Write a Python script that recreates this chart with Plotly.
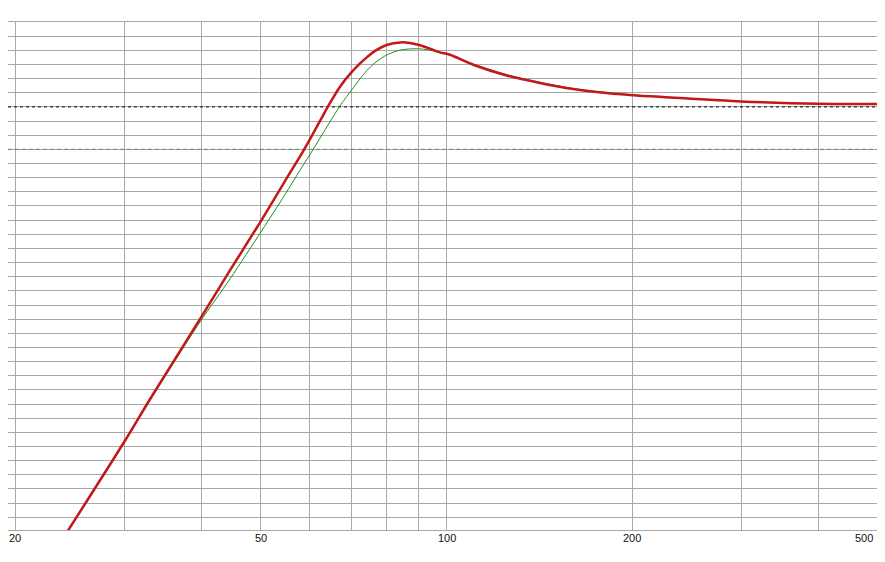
import math
import plotly.graph_objects as go

# ---- data ----
freq_red = [24.0, 29.93, 33.05, 39.83, 44.57, 50.15, 54.70, 57.86, 60.06, 62.34,
            64.71, 67.17, 69.74, 72.38, 74.22, 76.55, 80.14, 84.03, 87.21, 89.95,
            93.97, 97.52, 101.24, 110.43, 125.12, 141.66, 160.38, 181.62, 205.7,
            224.1, 299.9, 400.5, 500.0]
spl_red = [-30.36, -23.77, -20.66, -15.0, -11.54, -7.98, -5.24, -3.50, -2.27, -0.99,
           0.28, 1.43, 2.33, 3.07, 3.50, 3.96, 4.39, 4.56, 4.52, 4.39,
           4.11, 3.85, 3.69, 2.98, 2.22, 1.69, 1.26, 0.98, 0.79,
           0.70, 0.39, 0.22, 0.20]

freq_green = [24.0, 29.93, 33.05, 39.83, 44.57, 50.15, 54.70, 57.86, 60.67, 62.11,
              66.99, 68.45, 70.18, 72.38, 74.22, 76.55, 80.14, 84.03, 89.41, 93.97,
              97.52, 101.24, 110.43, 125.12, 141.66, 160.38, 181.62, 205.7, 224.1,
              299.9, 400.5, 500.0]
spl_green = [-30.4, -23.82, -20.75, -15.2, -12.15, -8.75, -6.20, -4.47, -3.05, -2.32,
             0.0, 0.58, 1.21, 1.99, 2.56, 3.12, 3.69, 4.01, 4.11, 4.01,
             3.83, 3.70, 3.03, 2.28, 1.74, 1.30, 1.01, 0.81, 0.71,
             0.39, 0.22, 0.20]

ref_levels = [0, -3]                 # black dashed, grey dashed
x_grid = [20, 30, 40, 50, 60, 70, 80, 90, 100, 200, 300, 400, 500]
tick_vals = [20, 50, 100, 200, 500]
tick_labels = ["20", "50", "100", "200", "500"]
x_min, x_max = 19.46, 500
y_min, y_max = -29.9, 6

fig = go.Figure()
# reference level lines (drawn first so the curves sit on top)
fig.add_trace(go.Scatter(x=[x_min, x_max], y=[ref_levels[0]] * 2, mode="lines",
                         line=dict(color="#000000", width=1, dash="3px,3px"),
                         hoverinfo="skip", showlegend=False))
fig.add_trace(go.Scatter(x=[x_min, x_max], y=[ref_levels[1]] * 2, mode="lines",
                         line=dict(color="#7A7A7A", width=1, dash="4px,3px"),
                         hoverinfo="skip", showlegend=False))
fig.add_trace(go.Scatter(x=freq_green, y=spl_green, mode="lines",
                         line=dict(color="#1E8C1E", width=1, shape="spline", smoothing=0.8),
                         hoverinfo="skip", showlegend=False))
fig.add_trace(go.Scatter(x=freq_red, y=spl_red, mode="lines",
                         line=dict(color="#C41818", width=2.5, shape="spline", smoothing=0.8),
                         hoverinfo="skip", showlegend=False))

shapes = [
    # right border of plot
    dict(type="line", xref="paper", yref="paper", x0=1, x1=1, y0=0, y1=1,
         line=dict(color="#A0A0A0", width=1)),
    # window border
    dict(type="line", xref="paper", yref="paper", x0=875 / 870, x1=875 / 870,
         y0=-0.06, y1=1.03, line=dict(color="#6E6E6E", width=1)),
]

annotations = []
for v, t in zip(tick_vals, tick_labels):
    last = v == tick_vals[-1]
    annotations.append(dict(x=math.log10(v), y=0, xref="x", yref="paper", text=t,
                            showarrow=False, xanchor="right" if last else "center",
                            yanchor="middle", xshift=-3 if last else 0, yshift=-8,
                            font=dict(family="Liberation Sans, Arial", size=11,
                                      color="#111111")))

# the page body adds an 8px margin, so the figure is sized/placed to compensate
fig.update_layout(
    width=877, height=546,
    margin=dict(l=0, r=7, t=14, b=24, autoexpand=False),
    paper_bgcolor="white", plot_bgcolor="white",
    shapes=shapes, annotations=annotations,
    showlegend=False,
    xaxis=dict(type="log", range=[math.log10(x_min), math.log10(x_max)],
               tickmode="array", tickvals=x_grid, showticklabels=False,
               showgrid=True, gridcolor="#A8A8A8", gridwidth=1,
               showline=True, mirror=True, linecolor="#A8A8A8", linewidth=1,
               zeroline=False, ticks=""),
    yaxis=dict(range=[y_min, y_max], tick0=0, dtick=1, showticklabels=False,
               showgrid=True, gridcolor="#A8A8A8", gridwidth=1,
               showline=False, zeroline=False, ticks=""),
)

fig.write_html("out.html")
